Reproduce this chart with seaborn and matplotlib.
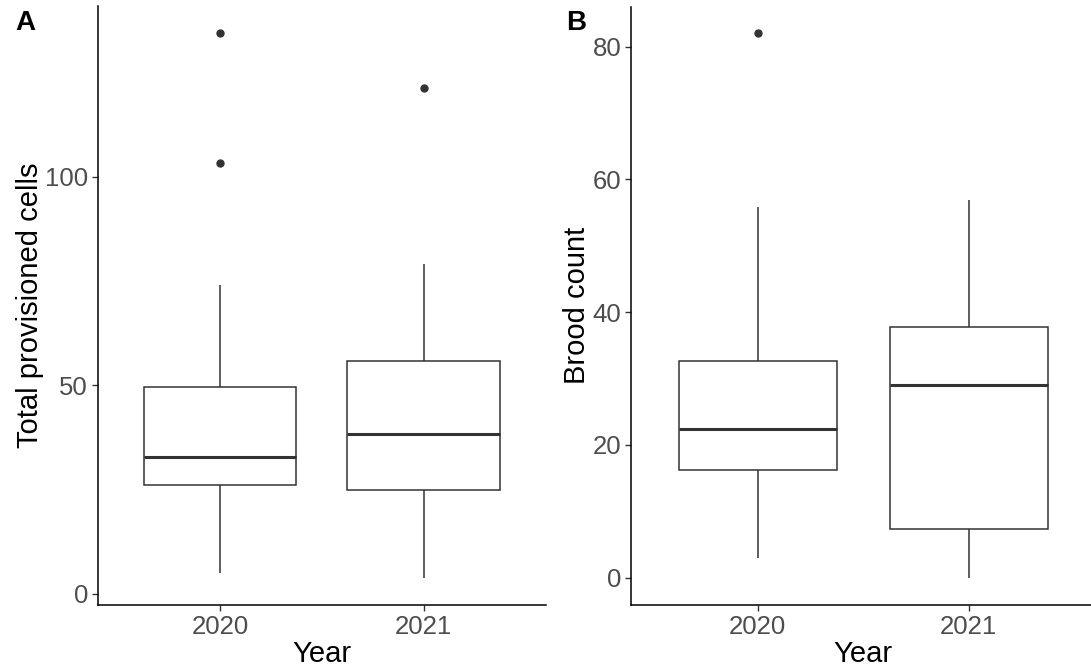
import pandas as pd
import seaborn as sb
import matplotlib.pyplot as plt

# five-number summaries (lower whisker, Q1, median, Q3, upper whisker)
years = ["2020", "2021"]

cells_low = [5.0, 3.9]
cells_q1 = [26.1, 24.9]
cells_med = [32.8, 38.4]
cells_q3 = [49.6, 55.8]
cells_high = [74.1, 79.1]
cells_out = [[103.2, 134.4], [121.3]]

brood_low = [3.0, 0.0]
brood_q1 = [16.2, 7.4]
brood_med = [22.45, 29.0]
brood_q3 = [32.7, 37.7]
brood_high = [55.9, 56.9]
brood_out = [[82.0], []]


# rebuild a sample whose quartiles/whiskers give exactly the summary above
def rebuild(low, q1, med, q3, high, outs):
    upper = sorted([high] + outs)
    m = len(upper)
    return [low] + [q1] * m + [med] * m + [q3] * m + upper


def table(lows, q1s, meds, q3s, highs, outs):
    rows = []
    for i, yr in enumerate(years):
        for v in rebuild(lows[i], q1s[i], meds[i], q3s[i], highs[i], outs[i]):
            rows.append({"Year": yr, "value": v})
    return pd.DataFrame(rows)


cells = table(cells_low, cells_q1, cells_med, cells_q3, cells_high, cells_out)
brood = table(brood_low, brood_q1, brood_med, brood_q3, brood_high, brood_out)

sb.set_style("white")
plt.rcParams["font.family"] = ["Liberation Sans", "DejaVu Sans"]
plt.rcParams["text.color"] = "black"
plt.rcParams["axes.labelcolor"] = "black"

fig = plt.figure(figsize=(10.91, 6.71), dpi=100)
axA = fig.add_axes([0.0896, 0.0984, 0.4107, 0.8924])
axB = fig.add_axes([0.5785, 0.0984, 0.4255, 0.8916])

box_kw = dict(
    order=years, width=0.75, color="white", linecolor="#333333", linewidth=1.1,
    showcaps=False, whis=1.5, fliersize=6,
    medianprops=dict(color="#333333", linewidth=2.2),
    whiskerprops=dict(color="#333333", linewidth=1.1),
    flierprops=dict(marker="o", markerfacecolor="#333333", markeredgecolor="#333333", markersize=5),
)

sb.boxplot(data=cells, x="Year", y="value", ax=axA, **box_kw)
sb.boxplot(data=brood, x="Year", y="value", ax=axB, **box_kw)

axA.set_ylim(-2.64, 140.9)
axA.set_yticks([0, 50, 100])
axA.set_ylabel("Total provisioned cells", fontsize=21, labelpad=1)
axB.set_ylim(-4.1, 86.0)
axB.set_yticks([0, 20, 40, 60, 80])
axB.set_ylabel("Brood count", fontsize=21, labelpad=1.5)

for ax in (axA, axB):
    ax.set_xlim(-0.6, 1.6)
    ax.set_xlabel("Year", fontsize=21, labelpad=1)
    for s in ("top", "right"):
        ax.spines[s].set_visible(False)
    for s in ("left", "bottom"):
        ax.spines[s].set_color("black")
        ax.spines[s].set_linewidth(1.1)
    ax.tick_params(axis="both", which="major", direction="out", length=4, width=1,
                   color="#333333", labelsize=18.5, labelcolor="#4D4D4D", pad=3,
                   left=True, bottom=True)

fig.text(0.014, 0.985, "A", fontsize=20, fontweight="bold", va="top", ha="left", color="black")
fig.text(0.519, 0.985, "B", fontsize=20, fontweight="bold", va="top", ha="left", color="black")

fig.savefig("out.png", dpi=100)
